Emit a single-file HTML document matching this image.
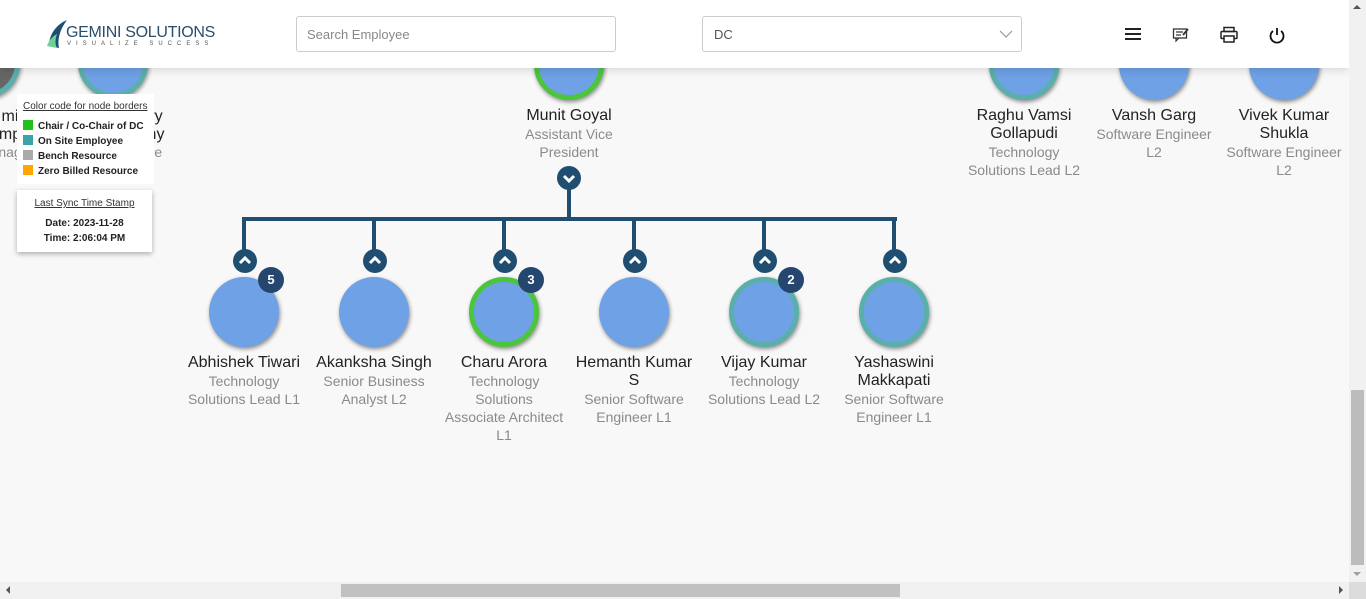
<!DOCTYPE html>
<html><head><meta charset="utf-8"><style>
*{box-sizing:border-box;margin:0;padding:0}
body{width:1366px;height:599px;overflow:hidden;background:#f8f8f8;font-family:"Liberation Sans",Arial,sans-serif;position:relative}
.a{position:absolute}
.c{position:absolute;width:70px;height:70px;border-radius:50%;background:#6fa1e6;box-shadow:1px 2px 4px rgba(0,0,0,.45)}
.g{border:5px solid #4cc53c}
.t{border:5px solid #5aafab}
.lbl{position:absolute;width:130px;text-align:center;line-height:18px}
.n{font-size:16px;color:#222}
.s{font-size:14px;color:#8a8a8a}
.btn{position:absolute;width:24px;height:24px;border-radius:50%;background:#1f4e70}
.btn svg{position:absolute;left:4px;top:4px}
.bd{position:absolute;width:26px;height:26px;border-radius:50%;background:#25466e;color:#fff;font-size:13px;font-weight:bold;text-align:center;line-height:26px}
.ln{position:absolute;background:#1f4e70}
</style></head><body>

<div class="c t" style="left:-50px;top:28px;background:#666"></div>
<div class="c t" style="left:78px;top:28px"></div>
<div class="c g" style="left:534px;top:30px"></div>
<div class="c t" style="left:989px;top:30px"></div>
<div class="c" style="left:1119px;top:30px"></div>
<div class="c" style="left:1249px;top:30px"></div>

<div class="lbl n" style="left:-55px;top:108px">mi<br>mp</div>
<div class="lbl s" style="left:-55px;top:143px">nag</div>
<div class="lbl n" style="left:91px;top:108px">ry<br>ny</div>
<div class="lbl s" style="left:91px;top:143px">re</div>

<div class="lbl n" style="left:504px;top:107px">Munit Goyal</div>
<div class="lbl s" style="left:504px;top:125px">Assistant Vice<br>President</div>
<div class="lbl n" style="left:959px;top:107px">Raghu Vamsi<br>Gollapudi</div>
<div class="lbl s" style="left:959px;top:143px">Technology<br>Solutions Lead L2</div>
<div class="lbl n" style="left:1089px;top:107px">Vansh Garg</div>
<div class="lbl s" style="left:1089px;top:125px">Software Engineer<br>L2</div>
<div class="lbl n" style="left:1219px;top:107px">Vivek Kumar<br>Shukla</div>
<div class="lbl s" style="left:1219px;top:143px">Software Engineer<br>L2</div>

<div class="ln" style="left:567px;top:185px;width:4px;height:36px"></div>
<div class="ln" style="left:242px;top:217px;width:655px;height:4px"></div>
<div class="ln" style="left:242px;top:217px;width:4px;height:40px"></div>
<div class="ln" style="left:372px;top:217px;width:4px;height:40px"></div>
<div class="ln" style="left:502px;top:217px;width:4px;height:40px"></div>
<div class="ln" style="left:632px;top:217px;width:4px;height:40px"></div>
<div class="ln" style="left:762px;top:217px;width:4px;height:40px"></div>
<div class="ln" style="left:892px;top:217px;width:4px;height:40px"></div>

<div class="btn" style="left:557px;top:166px"><svg width="16" height="16"><path d="M3 6 L8 11 L13 6" stroke="#fff" stroke-width="3" fill="none"/></svg></div>
<div class="btn" style="left:233px;top:249px"><svg width="16" height="16"><path d="M3 10 L8 5 L13 10" stroke="#fff" stroke-width="3" fill="none"/></svg></div>
<div class="btn" style="left:363px;top:249px"><svg width="16" height="16"><path d="M3 10 L8 5 L13 10" stroke="#fff" stroke-width="3" fill="none"/></svg></div>
<div class="btn" style="left:493px;top:249px"><svg width="16" height="16"><path d="M3 10 L8 5 L13 10" stroke="#fff" stroke-width="3" fill="none"/></svg></div>
<div class="btn" style="left:623px;top:249px"><svg width="16" height="16"><path d="M3 10 L8 5 L13 10" stroke="#fff" stroke-width="3" fill="none"/></svg></div>
<div class="btn" style="left:753px;top:249px"><svg width="16" height="16"><path d="M3 10 L8 5 L13 10" stroke="#fff" stroke-width="3" fill="none"/></svg></div>
<div class="btn" style="left:883px;top:249px"><svg width="16" height="16"><path d="M3 10 L8 5 L13 10" stroke="#fff" stroke-width="3" fill="none"/></svg></div>

<div class="c" style="left:209px;top:277px"></div>
<div class="c" style="left:339px;top:277px"></div>
<div class="c g" style="left:469px;top:277px"></div>
<div class="c" style="left:599px;top:277px"></div>
<div class="c t" style="left:729px;top:277px"></div>
<div class="c t" style="left:859px;top:277px"></div>
<div class="bd" style="left:258px;top:267px">5</div>
<div class="bd" style="left:518px;top:267px">3</div>
<div class="bd" style="left:778px;top:267px">2</div>

<div class="lbl n" style="left:179px;top:354px">Abhishek Tiwari</div>
<div class="lbl s" style="left:179px;top:372px">Technology<br>Solutions Lead L1</div>
<div class="lbl n" style="left:309px;top:354px">Akanksha Singh</div>
<div class="lbl s" style="left:309px;top:372px">Senior Business<br>Analyst L2</div>
<div class="lbl n" style="left:439px;top:354px">Charu Arora</div>
<div class="lbl s" style="left:439px;top:372px">Technology<br>Solutions<br>Associate Architect<br>L1</div>
<div class="lbl n" style="left:569px;top:354px">Hemanth Kumar<br>S</div>
<div class="lbl s" style="left:569px;top:390px">Senior Software<br>Engineer L1</div>
<div class="lbl n" style="left:699px;top:354px">Vijay Kumar</div>
<div class="lbl s" style="left:699px;top:372px">Technology<br>Solutions Lead L2</div>
<div class="lbl n" style="left:829px;top:354px">Yashaswini<br>Makkapati</div>
<div class="lbl s" style="left:829px;top:390px">Senior Software<br>Engineer L1</div>

<div class="a" style="left:17px;top:94px;width:137px;height:90px;background:#fff;font-size:10px;color:#222">
 <div style="position:absolute;left:6px;top:7px;text-decoration:underline;color:#333">Color code for node borders</div>
 <div style="position:absolute;left:6px;top:25px;line-height:15px;font-weight:bold">
  <div><span style="display:inline-block;width:10px;height:10px;background:#22c01a;margin-right:5px;vertical-align:-1px"></span>Chair / Co-Chair of DC</div>
  <div><span style="display:inline-block;width:10px;height:10px;background:#3aa3a8;margin-right:5px;vertical-align:-1px"></span>On Site Employee</div>
  <div><span style="display:inline-block;width:10px;height:10px;background:#aaa;margin-right:5px;vertical-align:-1px"></span>Bench Resource</div>
  <div><span style="display:inline-block;width:10px;height:10px;background:#ffa500;margin-right:5px;vertical-align:-1px"></span>Zero Billed Resource</div>
 </div>
</div>
<div class="a" style="left:17px;top:190px;width:135px;height:62px;background:#fff;box-shadow:0 2px 5px rgba(0,0,0,.3);font-size:10px;color:#222;text-align:center">
 <div style="margin-top:8px;text-decoration:underline;color:#333">Last Sync Time Stamp</div>
 <div style="margin-top:7px;font-weight:bold;line-height:15px">Date: 2023-11-28<br>Time: 2:06:04 PM</div>
</div>

<div class="a" style="left:0;top:0;width:1349px;height:68px;background:#fff;box-shadow:0 3px 8px rgba(0,0,0,.12)">
 <svg class="a" style="left:47px;top:18px" width="22" height="32"><path d="M2 28 C2 16 10 6 20 2 C14 10 10 20 12 30 Z" fill="#1f4e70"/><path d="M0 28 C2 22 6 18 10 16 C8 22 8 26 10 30 Z" fill="#6fcf97"/></svg>
 <div class="a" style="left:66px;top:24px;font-size:16px;color:#2b4d6b;letter-spacing:-0.3px;white-space:nowrap">GEMINI SOLUTIONS</div>
 <div class="a" style="left:67px;top:41px;font-size:6px;color:#555;letter-spacing:5px;white-space:nowrap">VISUALIZE SUCCESS</div>
 <div class="a" style="left:296px;top:16px;width:320px;height:36px;border:1px solid #ccc;border-radius:3px;font-size:13px;color:#888;padding:10px 10px">Search Employee</div>
 <div class="a" style="left:702px;top:16px;width:320px;height:36px;border:1px solid #ccc;border-radius:3px;font-size:13px;color:#555;padding:10px 11px">DC
  <svg class="a" style="right:8px;top:12px" width="14" height="10"><path d="M1 2 L7 8 L13 2" stroke="#999" stroke-width="1.2" fill="none"/></svg></div>
 <svg class="a" style="left:1124px;top:27px" width="18" height="14"><path d="M1 2H17M1 7H17M1 12H17" stroke="#222" stroke-width="2"/></svg>
 <svg class="a" style="left:1172px;top:26px" width="18" height="18"><rect x="1.5" y="3" width="13" height="9" fill="none" stroke="#333" stroke-width="1.3"/><path d="M4 6H11M4 9H9M4 12L4 15L7 12" stroke="#333" stroke-width="1.2" fill="none"/><path d="M11 9L16 3" stroke="#333" stroke-width="1.8"/></svg>
 <svg class="a" style="left:1220px;top:26px" width="18" height="18"><rect x="4" y="1.5" width="10" height="4" fill="none" stroke="#222" stroke-width="1.5"/><rect x="1" y="5.5" width="16" height="7" rx="1" fill="none" stroke="#222" stroke-width="1.5"/><rect x="4" y="10" width="10" height="6" fill="#fff" stroke="#222" stroke-width="1.5"/></svg>
 <svg class="a" style="left:1268px;top:26px" width="18" height="18"><path d="M5 5 A6.5 6.5 0 1 0 13 5" stroke="#111" stroke-width="1.8" fill="none"/><path d="M9 2V9" stroke="#111" stroke-width="1.8"/></svg>
</div>

<div class="a" style="left:1349px;top:0;width:17px;height:582px;background:#f1f1f1"></div>
<div class="a" style="left:1351px;top:390px;width:13px;height:175px;background:#bcbcbc"></div>
<div class="a" style="left:1353px;top:5px;width:0;height:0;border-left:4px solid transparent;border-right:4px solid transparent;border-bottom:4px solid #555"></div>
<div class="a" style="left:1353px;top:572px;width:0;height:0;border-left:4px solid transparent;border-right:4px solid transparent;border-top:4px solid #a0a0a0"></div>
<div class="a" style="left:0;top:582px;width:1349px;height:17px;background:#f1f1f1"></div>
<div class="a" style="left:1349px;top:582px;width:17px;height:17px;background:#dcdcdc"></div>
<div class="a" style="left:341px;top:584px;width:559px;height:13px;background:#c1c1c1"></div>
<div class="a" style="left:6px;top:586px;width:0;height:0;border-top:4px solid transparent;border-bottom:4px solid transparent;border-right:4px solid #555"></div>
<div class="a" style="left:1339px;top:586px;width:0;height:0;border-top:4px solid transparent;border-bottom:4px solid transparent;border-left:4px solid #555"></div>
</body></html>
